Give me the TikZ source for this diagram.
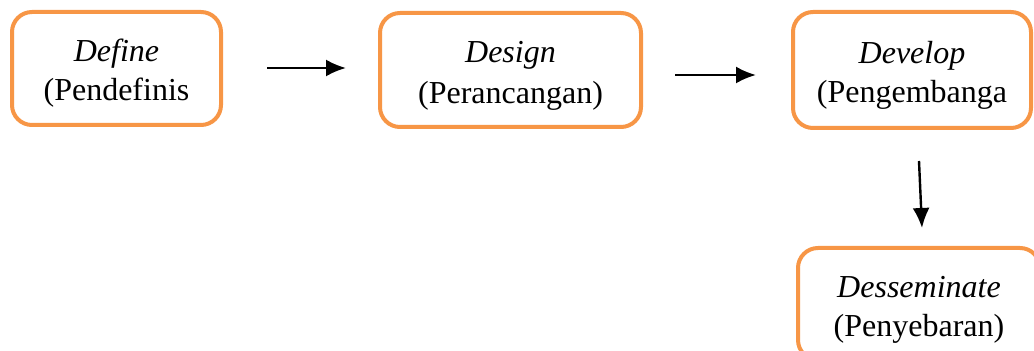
\documentclass[tikz,border=0pt]{standalone}
\usepackage{fontspec}
\setmainfont{Liberation Serif}
\usetikzlibrary{arrows.meta}
\definecolor{boxorange}{HTML}{F79646}
\newcommand{\topstrut}{\rule{0pt}{16pt}}
\tikzset{
  stagebox/.style={draw=boxorange, line width=2pt, rounded corners=10pt, fill=white,
    align=center, inner sep=0pt, font=\fontsize{16}{19.5}\selectfont},
  flowarrow/.style={line width=1.2pt, -{Latex[length=10pt,width=8.5pt]}}
}
\begin{document}
\begin{tikzpicture}[x=0.5pt,y=-0.5pt]
\useasboundingbox (0,0) rectangle (1034,351);
\clip (0,0) rectangle (1034,351);
\node[stagebox, minimum width=104.5pt, minimum height=56.5pt] (define) at (116.5,68.5) {\topstrut\textit{Define}\\(Pendefinis};
\node[stagebox, minimum width=130.5pt, minimum height=57pt] (design) at (510.5,70) {\topstrut\textit{Design}\\[1pt](Perancangan)};
\node[stagebox, minimum width=119pt, minimum height=58pt] (develop) at (912,70) {\topstrut\textit{Develop}\\(Pengembanga};
\node[stagebox, minimum width=121pt, minimum height=56pt] (dissem) at (919,304) {\topstrut\textit{Desseminate}\\(Penyebaran)};
\coordinate (a1s) at (267,68);
\coordinate (a1e) at (346,68);
\coordinate (a2s) at (675,75);
\coordinate (a2e) at (756,75);
\coordinate (a3s) at (919,161);
\coordinate (a3e) at (922,228);
\draw[flowarrow] (a1s) -- (a1e);
\draw[flowarrow] (a2s) -- (a2e);
\draw[flowarrow] (a3s) -- (a3e);
\end{tikzpicture}
\end{document}
